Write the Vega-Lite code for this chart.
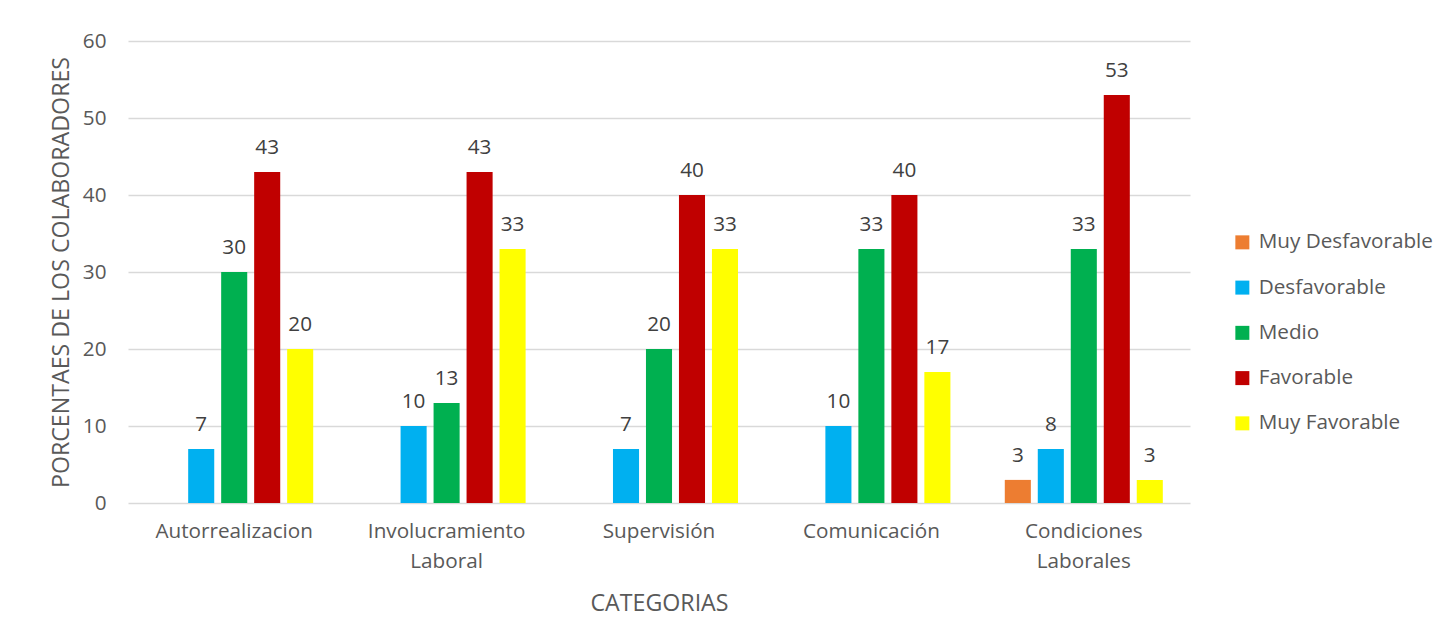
{
  "$schema": "https://vega.github.io/schema/vega-lite/v6.json",
  "autosize": {"type": "none"},
  "width": 1062,
  "height": 462,
  "padding": {"left": 128, "top": 41, "right": 257, "bottom": 140},
  "background": "white",
  "data": {
    "values": [
      {"categoria": "Autorrealizacion", "nivel": "Muy Desfavorable", "valor": 0, "etiqueta": ""},
      {"categoria": "Autorrealizacion", "nivel": "Desfavorable", "valor": 7, "etiqueta": "7"},
      {"categoria": "Autorrealizacion", "nivel": "Medio", "valor": 30, "etiqueta": "30"},
      {"categoria": "Autorrealizacion", "nivel": "Favorable", "valor": 43, "etiqueta": "43"},
      {"categoria": "Autorrealizacion", "nivel": "Muy Favorable", "valor": 20, "etiqueta": "20"},
      {"categoria": "Involucramiento Laboral", "nivel": "Muy Desfavorable", "valor": 0, "etiqueta": ""},
      {"categoria": "Involucramiento Laboral", "nivel": "Desfavorable", "valor": 10, "etiqueta": "10"},
      {"categoria": "Involucramiento Laboral", "nivel": "Medio", "valor": 13, "etiqueta": "13"},
      {"categoria": "Involucramiento Laboral", "nivel": "Favorable", "valor": 43, "etiqueta": "43"},
      {"categoria": "Involucramiento Laboral", "nivel": "Muy Favorable", "valor": 33, "etiqueta": "33"},
      {"categoria": "Supervisión", "nivel": "Muy Desfavorable", "valor": 0, "etiqueta": ""},
      {"categoria": "Supervisión", "nivel": "Desfavorable", "valor": 7, "etiqueta": "7"},
      {"categoria": "Supervisión", "nivel": "Medio", "valor": 20, "etiqueta": "20"},
      {"categoria": "Supervisión", "nivel": "Favorable", "valor": 40, "etiqueta": "40"},
      {"categoria": "Supervisión", "nivel": "Muy Favorable", "valor": 33, "etiqueta": "33"},
      {"categoria": "Comunicación", "nivel": "Muy Desfavorable", "valor": 0, "etiqueta": ""},
      {"categoria": "Comunicación", "nivel": "Desfavorable", "valor": 10, "etiqueta": "10"},
      {"categoria": "Comunicación", "nivel": "Medio", "valor": 33, "etiqueta": "33"},
      {"categoria": "Comunicación", "nivel": "Favorable", "valor": 40, "etiqueta": "40"},
      {"categoria": "Comunicación", "nivel": "Muy Favorable", "valor": 17, "etiqueta": "17"},
      {"categoria": "Condiciones Laborales", "nivel": "Muy Desfavorable", "valor": 3, "etiqueta": "3"},
      {"categoria": "Condiciones Laborales", "nivel": "Desfavorable", "valor": 7, "etiqueta": "8"},
      {"categoria": "Condiciones Laborales", "nivel": "Medio", "valor": 33, "etiqueta": "33"},
      {"categoria": "Condiciones Laborales", "nivel": "Favorable", "valor": 53, "etiqueta": "53"},
      {"categoria": "Condiciones Laborales", "nivel": "Muy Favorable", "valor": 3, "etiqueta": "3"}
    ]
  },
  "encoding": {
    "x": {
      "field": "categoria",
      "type": "nominal",
      "sort": null,
      "scale": {"paddingInner": 0.256, "paddingOuter": 0.128},
      "axis": {
        "title": "CATEGORIAS",
        "titleFont": "Open Sans",
        "titleFontSize": 23.2,
        "titleFontWeight": "normal",
        "titleColor": "#595959",
        "titlePadding": 22,
        "labelAngle": 0,
        "labelFont": "Open Sans",
        "labelFontSize": 20.7,
        "labelColor": "#595959",
        "labelPadding": 18,
        "labelLineHeight": 30,
        "labelExpr": "split(datum.label, ' ')",
        "domain": false,
        "ticks": false
      }
    },
    "xOffset": {
      "field": "nivel",
      "type": "nominal",
      "sort": ["Muy Desfavorable", "Desfavorable", "Medio", "Favorable", "Muy Favorable"],
      "scale": {"paddingInner": 0.21, "paddingOuter": 0}
    },
    "y": {
      "field": "valor",
      "type": "quantitative",
      "scale": {"domain": [0, 60]},
      "axis": {
        "title": "PORCENTAES DE LOS COLABORADORES",
        "titleFont": "Open Sans",
        "titleFontSize": 23.2,
        "titleFontWeight": "normal",
        "titleColor": "#595959",
        "titlePadding": 9,
        "values": [0, 10, 20, 30, 40, 50, 60],
        "labelFont": "Open Sans",
        "labelFontSize": 20.7,
        "labelColor": "#595959",
        "labelPadding": 22,
        "domain": false,
        "ticks": false,
        "grid": true,
        "gridColor": "#d9d9d9",
        "gridWidth": 1.5
      }
    }
  },
  "layer": [
    {
      "mark": {"type": "bar"},
      "encoding": {
        "color": {
          "field": "nivel",
          "type": "nominal",
          "sort": ["Muy Desfavorable", "Desfavorable", "Medio", "Favorable", "Muy Favorable"],
          "scale": {
            "domain": ["Muy Desfavorable", "Desfavorable", "Medio", "Favorable", "Muy Favorable"],
            "range": ["#ED7D31", "#00B0F0", "#00B050", "#C00000", "#FFFF00"]
          },
          "legend": {
            "title": null,
            "orient": "none",
            "legendX": 1104,
            "legendY": 191,
            "symbolType": "square",
            "symbolSize": 196,
            "symbolStrokeWidth": 0,
            "symbolOpacity": 1,
            "labelFont": "Open Sans",
            "labelFontSize": 20.7,
            "labelColor": "#595959",
            "labelOffset": 6,
            "labelLimit": 300,
            "rowPadding": 23.25
          }
        }
      }
    },
    {
      "transform": [{"filter": "datum.valor > 0"}],
      "mark": {"type": "text", "baseline": "middle", "dy": -24, "font": "Open Sans", "fontSize": 20.7, "color": "#404040"},
      "encoding": {
        "text": {"field": "etiqueta"}
      }
    }
  ],
  "config": {
    "view": {"stroke": null}
  }
}
